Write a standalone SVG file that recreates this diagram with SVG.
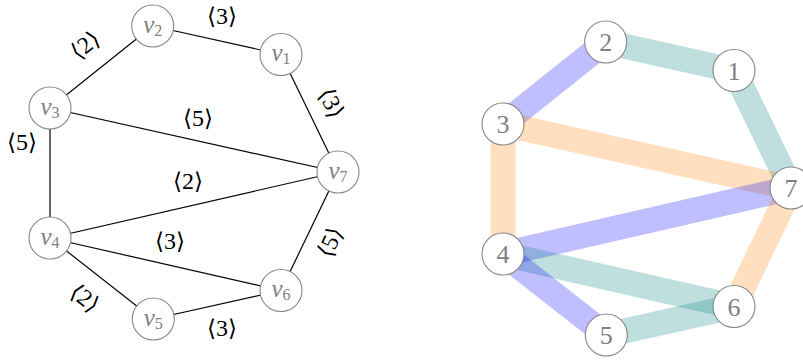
<svg xmlns="http://www.w3.org/2000/svg" width="803" height="360" viewBox="0 0 803 360">
<style>
.bg{fill:#ffffff}
.edge{stroke:#000;stroke-width:1.2;fill:none}
.band{stroke-width:25;fill:none;stroke-opacity:0.25;stroke-linecap:butt}
.w2{stroke:#0000ff}
.w3{stroke:#008080}
.w5{stroke:#ff8000}
.node{fill:#fff;stroke:#858585;stroke-width:1.1}
.nl{font-family:"Liberation Serif","DejaVu Serif",serif;fill:#808080;text-anchor:middle}
.v{font-style:italic;font-size:25px}
.sub{font-size:16px}
.num{font-size:26px}
.lab{font-family:"DejaVu Serif","DejaVu Sans",serif;font-size:23px;fill:#000;text-anchor:middle;dominant-baseline:central}
.d{font-family:"Liberation Serif",serif;font-size:24px}
</style>
<rect class="bg" x="0" y="0" width="803" height="360"/>
<g id="connectors-left">
<line class="edge" x1="281" y1="54.5" x2="152.7" y2="26"/>
<line class="edge" x1="152.7" y1="26" x2="50" y2="108"/>
<line class="edge" x1="281" y1="54.5" x2="338" y2="172"/>
<line class="edge" x1="50" y1="108" x2="338" y2="172"/>
<line class="edge" x1="50" y1="108" x2="50" y2="238"/>
<line class="edge" x1="50" y1="238" x2="338" y2="172"/>
<line class="edge" x1="50" y1="238" x2="281" y2="290.5"/>
<line class="edge" x1="50" y1="238" x2="153.3" y2="319"/>
<line class="edge" x1="153.3" y1="319" x2="281" y2="290.5"/>
<line class="edge" x1="281" y1="290.5" x2="338" y2="172"/>
</g>
<g id="edge-labels">
<text class="lab" x="222" y="16">⟨<tspan class="d">3</tspan>⟩</text>
<text class="lab" transform="translate(85 45) rotate(-38.7)">⟨<tspan class="d">2</tspan>⟩</text>
<text class="lab" transform="translate(331.5 103) rotate(64)">⟨<tspan class="d">3</tspan>⟩</text>
<text class="lab" x="198" y="118">⟨<tspan class="d">5</tspan>⟩</text>
<text class="lab" x="22" y="142">⟨<tspan class="d">5</tspan>⟩</text>
<text class="lab" x="188" y="181">⟨<tspan class="d">2</tspan>⟩</text>
<text class="lab" x="170" y="241">⟨<tspan class="d">3</tspan>⟩</text>
<text class="lab" transform="translate(330 242) rotate(-64)">⟨<tspan class="d">5</tspan>⟩</text>
<text class="lab" transform="translate(85 298) rotate(38)">⟨<tspan class="d">2</tspan>⟩</text>
<text class="lab" x="222" y="328">⟨<tspan class="d">3</tspan>⟩</text>
</g>
<g id="v1"><circle class="node" cx="281" cy="54.5" r="21"/><text class="nl" x="281" y="61"><tspan class="v">v</tspan><tspan class="sub" dy="3">1</tspan></text></g>
<g id="v2"><circle class="node" cx="152.7" cy="26" r="21"/><text class="nl" x="152.7" y="32.5"><tspan class="v">v</tspan><tspan class="sub" dy="3">2</tspan></text></g>
<g id="v3"><circle class="node" cx="50" cy="108" r="21"/><text class="nl" x="50" y="114.5"><tspan class="v">v</tspan><tspan class="sub" dy="3">3</tspan></text></g>
<g id="v4"><circle class="node" cx="50" cy="238" r="21"/><text class="nl" x="50" y="244.5"><tspan class="v">v</tspan><tspan class="sub" dy="3">4</tspan></text></g>
<g id="v5"><circle class="node" cx="153.3" cy="319" r="21"/><text class="nl" x="153.3" y="325.5"><tspan class="v">v</tspan><tspan class="sub" dy="3">5</tspan></text></g>
<g id="v6"><circle class="node" cx="281" cy="290.5" r="21"/><text class="nl" x="281" y="297"><tspan class="v">v</tspan><tspan class="sub" dy="3">6</tspan></text></g>
<g id="v7"><circle class="node" cx="338" cy="172" r="21"/><text class="nl" x="338" y="178.5"><tspan class="v">v</tspan><tspan class="sub" dy="3">7</tspan></text></g>
<g id="connectors-right">
<line class="band w3" x1="734" y1="70.5" x2="605.7" y2="42"/>
<line class="band w2" x1="605.7" y1="42" x2="503" y2="124"/>
<line class="band w3" x1="734" y1="70.5" x2="791" y2="188"/>
<line class="band w5" x1="503" y1="124" x2="791" y2="188"/>
<line class="band w5" x1="503" y1="124" x2="503" y2="254"/>
<line class="band w2" x1="503" y1="254" x2="791" y2="188"/>
<line class="band w3" x1="503" y1="254" x2="734" y2="306.5"/>
<line class="band w2" x1="503" y1="254" x2="606.3" y2="335"/>
<line class="band w3" x1="606.3" y1="335" x2="734" y2="306.5"/>
<line class="band w5" x1="734" y1="306.5" x2="791" y2="188"/>
</g>
<g id="n1"><circle class="node" cx="734" cy="70.5" r="21"/><text class="nl num" x="734" y="79.5">1</text></g>
<g id="n2"><circle class="node" cx="605.7" cy="42" r="21"/><text class="nl num" x="605.7" y="51">2</text></g>
<g id="n3"><circle class="node" cx="503" cy="124" r="21"/><text class="nl num" x="503" y="133">3</text></g>
<g id="n4"><circle class="node" cx="503" cy="254" r="21"/><text class="nl num" x="503" y="263">4</text></g>
<g id="n5"><circle class="node" cx="606.3" cy="335" r="21"/><text class="nl num" x="606.3" y="344">5</text></g>
<g id="n6"><circle class="node" cx="734" cy="306.5" r="21"/><text class="nl num" x="734" y="315.5">6</text></g>
<g id="n7"><circle class="node" cx="791" cy="188" r="21"/><text class="nl num" x="791" y="197">7</text></g>
</svg>
